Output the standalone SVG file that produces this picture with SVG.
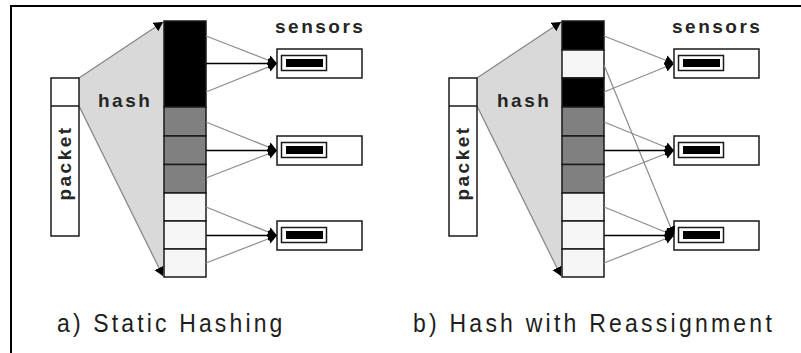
<svg xmlns="http://www.w3.org/2000/svg" width="801" height="353" viewBox="0 0 801 353">
  <style>
    .box { fill: #ffffff; stroke: #1a1a1a; stroke-width: 1.5; }
    .cell { stroke: #1a1a1a; stroke-width: 1.5; }
    .blk { fill: #000000; }
    .gry { fill: #808080; }
    .wht { fill: #f6f6f6; }
    .fan { fill: #d9d9d9; stroke: none; }
    .edge { stroke: #888888; stroke-width: 1.3; fill: none; }
    .thin { stroke: #8c8c8c; stroke-width: 1.2; fill: none; marker-end: url(#head); }
    .main { stroke: #000000; stroke-width: 1.6; fill: none; marker-end: url(#head); }
    .lbl { font-family: "Liberation Sans", Arial, sans-serif; font-weight: bold; font-size: 19px; fill: #262626; letter-spacing: 2.5px; }
    .cap { font-family: "Liberation Sans", Arial, sans-serif; font-size: 25px; fill: #1e1e1e; }
  </style>
  <defs>
    <marker id="head" markerUnits="userSpaceOnUse" markerWidth="11" markerHeight="11" refX="9" refY="5.5" orient="auto">
      <path d="M0,0.5 L9,5.5 L0,10.5 z" fill="#000000"/>
    </marker>
    <!-- one sensor: outer box with an inner gauge -->
    <g id="sensor-shape">
      <rect class="box" x="0" y="0" width="85" height="29"/>
      <rect x="4.5" y="6.5" width="45" height="15" fill="#ffffff" stroke="#1a1a1a" stroke-width="1.5"/>
      <rect x="9" y="10" width="37" height="8" fill="#000000"/>
    </g>
  </defs>

  <!-- frame -->
  <path d="M11,353 L11,6 L801,6" fill="none" stroke="#000000" stroke-width="2"/>

  <!-- ===== a) static hashing ===== -->
  <g id="hash-fan-a">
    <polygon class="fan" points="79,78 164,21 164,277 79,106"/>
    <line class="edge" x1="79" y1="78" x2="163" y2="22" marker-end="url(#head)"/>
    <line class="edge" x1="79" y1="106" x2="163" y2="276" marker-end="url(#head)"/>
    <text class="lbl" x="98" y="107">hash</text>
  </g>
  <g id="packet-a">
    <rect class="box" x="51" y="78" width="28" height="158"/>
    <line x1="51" y1="106" x2="79" y2="106" stroke="#1a1a1a" stroke-width="1.5"/>
    <text class="lbl" transform="translate(71,163) rotate(-90)" text-anchor="middle">packet</text>
  </g>
  <g id="table-a">
    <rect class="cell blk" x="164" y="21" width="42" height="86"/>
    <rect class="cell gry" x="164" y="107" width="42" height="29"/>
    <rect class="cell gry" x="164" y="136" width="42" height="28.5"/>
    <rect class="cell gry" x="164" y="164.5" width="42" height="28.5"/>
    <rect class="cell wht" x="164" y="193" width="42" height="28"/>
    <rect class="cell wht" x="164" y="221" width="42" height="28"/>
    <rect class="cell wht" x="164" y="249" width="42" height="28"/>
  </g>
  <g id="sensors-a">
    <text class="lbl" x="275" y="33">sensors</text>
    <use href="#sensor-shape" x="277" y="49"/>
    <use href="#sensor-shape" x="277" y="136"/>
    <use href="#sensor-shape" x="277" y="221"/>
  </g>
  <g id="connectors-a">
    <line class="thin" x1="206" y1="36" x2="277" y2="63.5"/>
    <line class="thin" x1="206" y1="92" x2="277" y2="63.5"/>
    <line class="main" x1="206" y1="63.5" x2="277" y2="63.5"/>
    <line class="thin" x1="206" y1="122" x2="277" y2="150.5"/>
    <line class="thin" x1="206" y1="178" x2="277" y2="150.5"/>
    <line class="main" x1="206" y1="150.5" x2="277" y2="150.5"/>
    <line class="thin" x1="206" y1="207" x2="277" y2="235.5"/>
    <line class="thin" x1="206" y1="263" x2="277" y2="235.5"/>
    <line class="main" x1="206" y1="235.5" x2="277" y2="235.5"/>
  </g>

  <!-- ===== b) hash with reassignment ===== -->
  <g id="hash-fan-b" transform="translate(398,0)">
    <polygon class="fan" points="79,78 164,21 164,277 79,106"/>
    <line class="edge" x1="79" y1="78" x2="163" y2="22" marker-end="url(#head)"/>
    <line class="edge" x1="79" y1="106" x2="163" y2="276" marker-end="url(#head)"/>
    <text class="lbl" x="99" y="107">hash</text>
  </g>
  <g id="packet-b" transform="translate(398,0)">
    <rect class="box" x="51" y="78" width="28" height="158"/>
    <line x1="51" y1="106" x2="79" y2="106" stroke="#1a1a1a" stroke-width="1.5"/>
    <text class="lbl" transform="translate(71,163) rotate(-90)" text-anchor="middle">packet</text>
  </g>
  <g id="table-b" transform="translate(398,0)">
    <rect class="cell blk" x="164" y="21" width="42" height="29"/>
    <rect class="cell wht" x="164" y="50" width="42" height="28"/>
    <rect class="cell blk" x="164" y="78" width="42" height="29"/>
    <rect class="cell gry" x="164" y="107" width="42" height="29"/>
    <rect class="cell gry" x="164" y="136" width="42" height="28.5"/>
    <rect class="cell gry" x="164" y="164.5" width="42" height="28.5"/>
    <rect class="cell wht" x="164" y="193" width="42" height="28"/>
    <rect class="cell wht" x="164" y="221" width="42" height="28"/>
    <rect class="cell wht" x="164" y="249" width="42" height="28"/>
  </g>
  <g id="sensors-b" transform="translate(397,0)">
    <text class="lbl" x="275" y="33">sensors</text>
    <use href="#sensor-shape" x="277" y="49"/>
    <use href="#sensor-shape" x="277" y="136"/>
    <use href="#sensor-shape" x="277" y="221"/>
  </g>
  <g id="connectors-b">
    <line class="thin" x1="604" y1="36" x2="674" y2="63.5"/>
    <line class="thin" x1="604" y1="92" x2="674" y2="63.5"/>
    <line class="thin" x1="604" y1="65" x2="674" y2="235.5"/>
    <line class="thin" x1="604" y1="122" x2="674" y2="150.5"/>
    <line class="thin" x1="604" y1="178" x2="674" y2="150.5"/>
    <line class="main" x1="604" y1="150.5" x2="674" y2="150.5"/>
    <line class="thin" x1="604" y1="207" x2="674" y2="235.5"/>
    <line class="thin" x1="604" y1="263" x2="674" y2="235.5"/>
    <line class="main" x1="604" y1="235.5" x2="674" y2="235.5"/>
  </g>

  <!-- captions: condensed face, stretched by spacing -->
  <text class="cap" transform="translate(57,332) scale(0.92,1)" textLength="245" lengthAdjust="spacing">a) Static Hashing</text>
  <text class="cap" transform="translate(413,332) scale(0.92,1)" textLength="390" lengthAdjust="spacing">b) Hash with Reassignment</text>
</svg>
